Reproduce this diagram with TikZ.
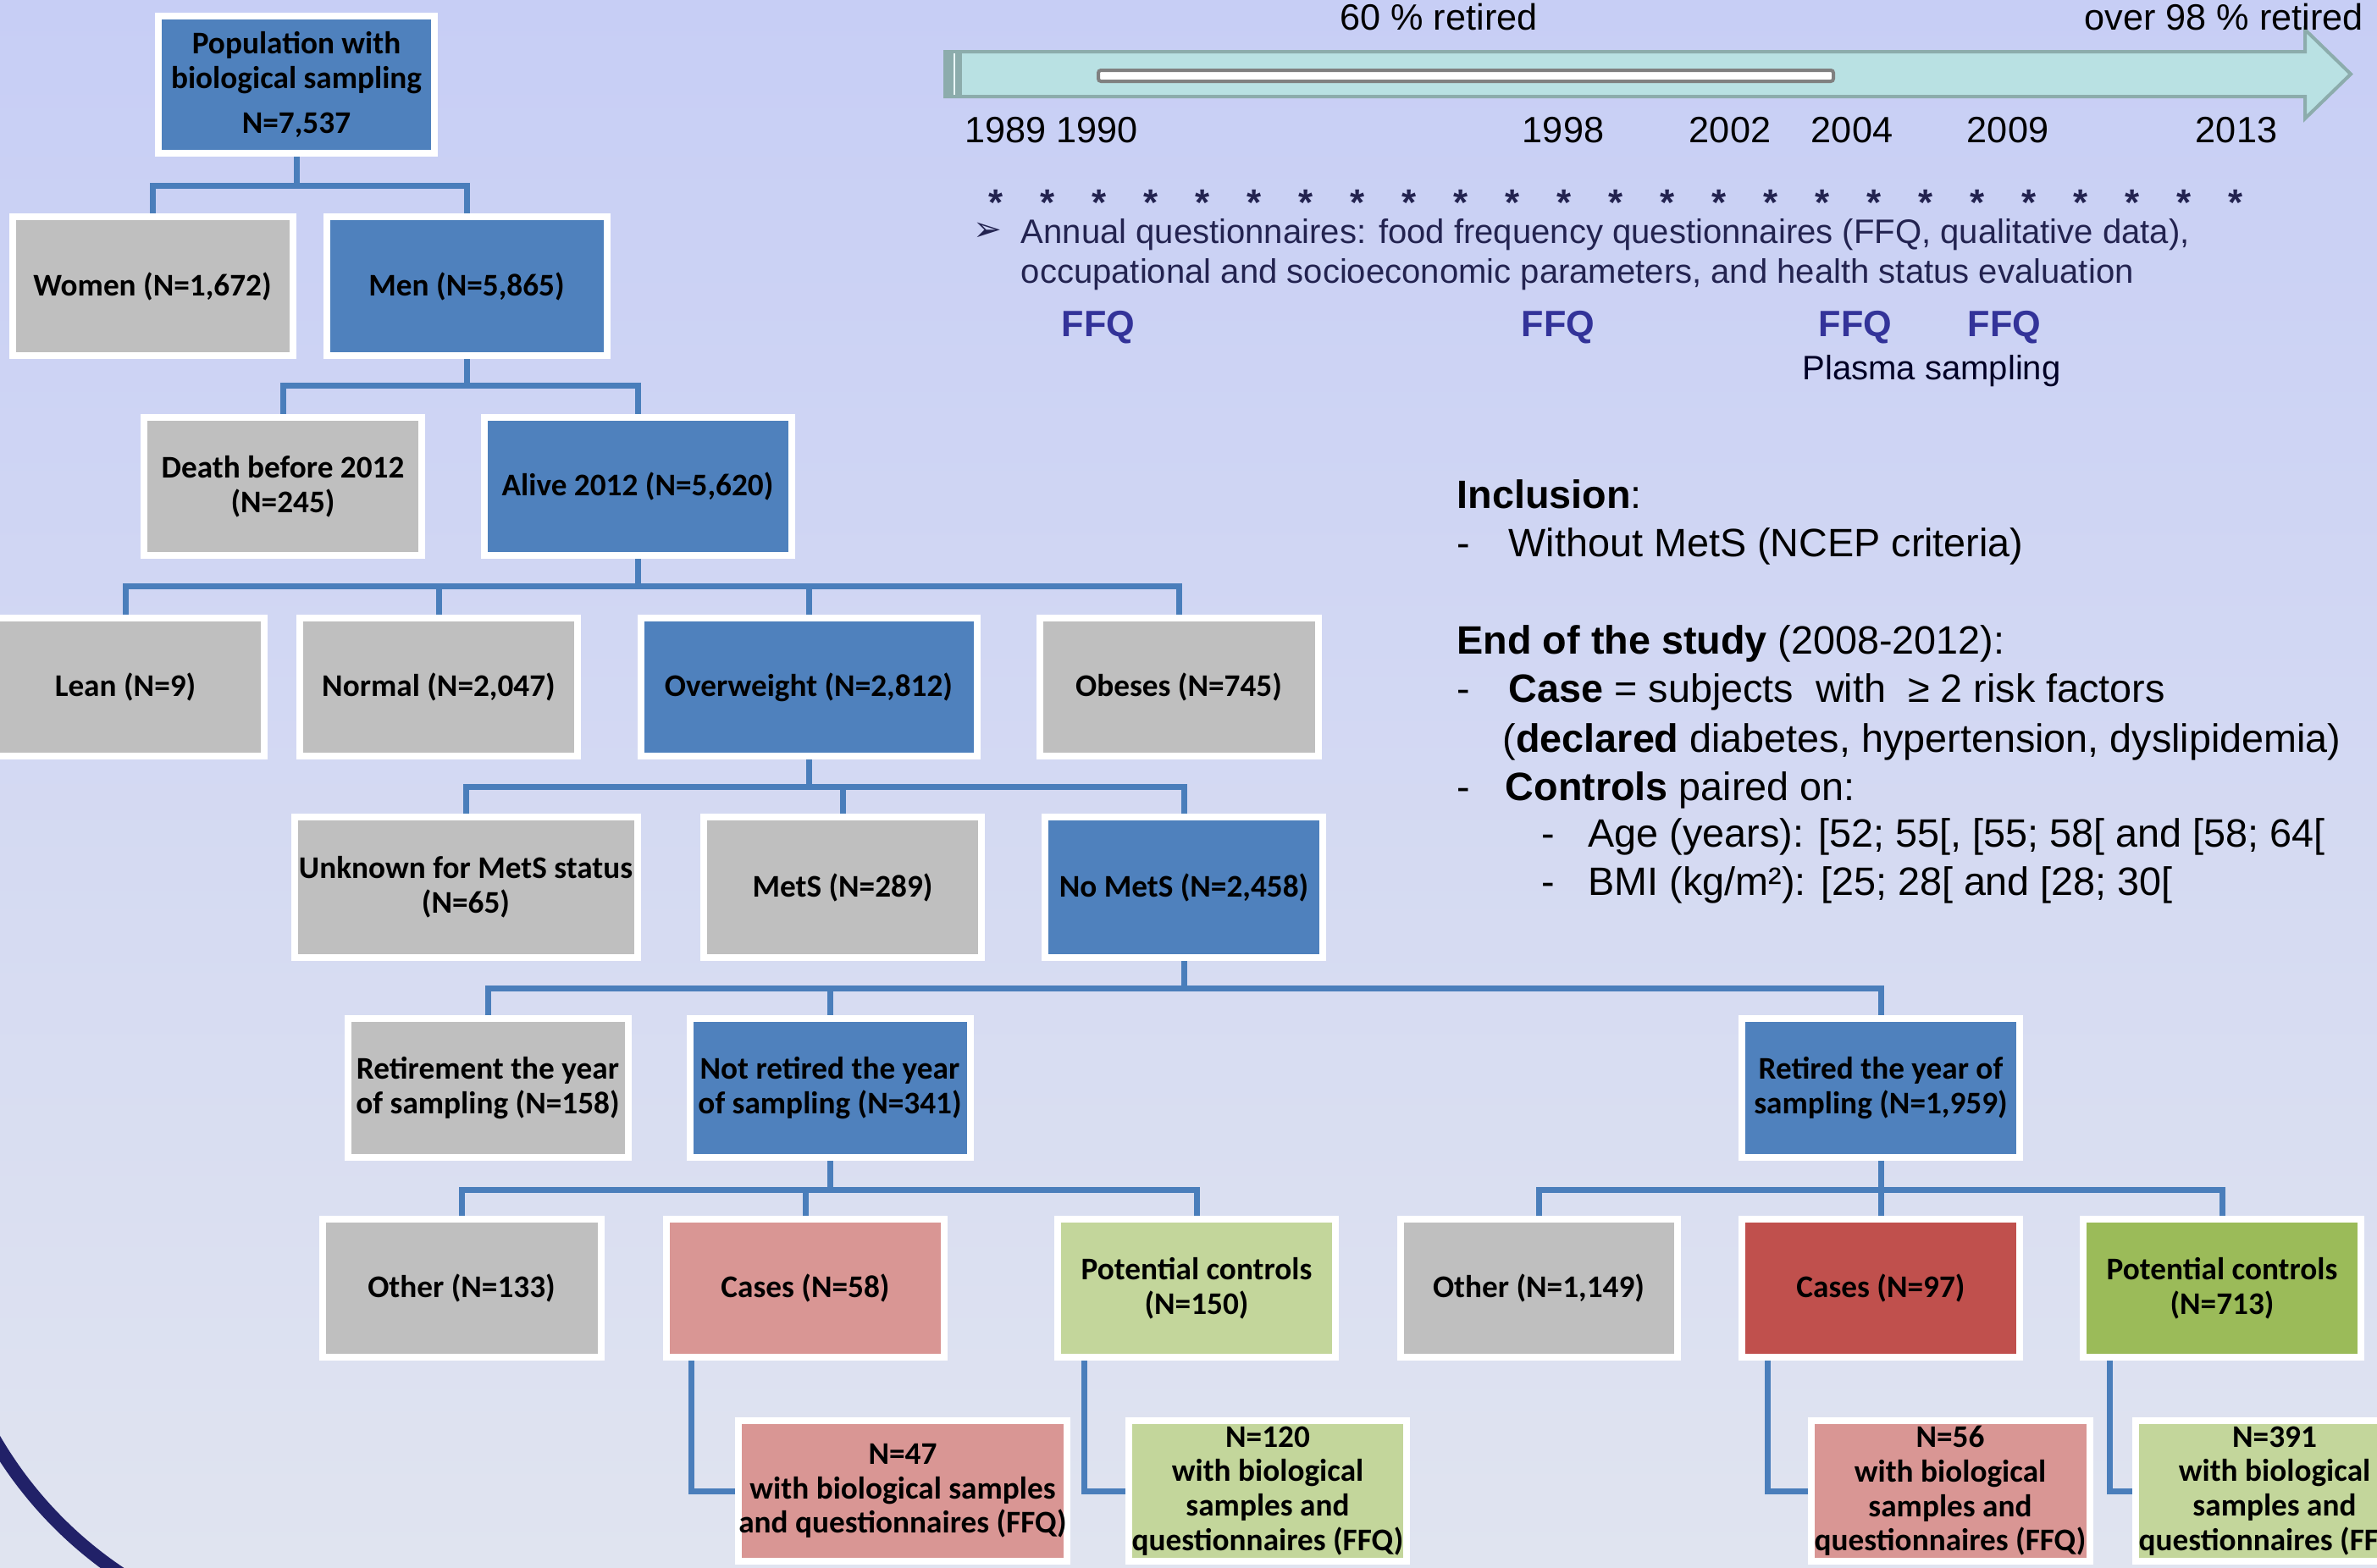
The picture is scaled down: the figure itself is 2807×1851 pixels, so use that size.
\documentclass[tikz,border=0pt]{standalone}
\usepackage{fontspec}
\setmainfont{Liberation Sans}
\newfontfamily\calib{Carlito}
\newfontfamily\dvs{DejaVu Sans}
\definecolor{bluebox}{RGB}{79,129,189}
\definecolor{greybox}{RGB}{191,191,191}
\definecolor{pinkbox}{RGB}{217,150,148}
\definecolor{redbox}{RGB}{192,80,77}
\definecolor{lgreenbox}{RGB}{195,214,155}
\definecolor{greenbox}{RGB}{155,187,89}
\definecolor{conncol}{RGB}{74,126,187}
\definecolor{navyarc}{RGB}{33,33,104}
\definecolor{ffqcol}{RGB}{51,51,153}
\definecolor{annualcol}{RGB}{35,35,80}
\definecolor{arrowfill}{RGB}{185,225,227}
\definecolor{arrowline}{RGB}{140,172,172}
\definecolor{bgtop}{RGB}{199,206,245}
\definecolor{bgmid}{RGB}{213,222,250}
\definecolor{bgbot}{RGB}{224,228,240}
\tikzset{
  boxbase/.style={draw=white, line width=0.8mm, inner sep=0pt, align=center, text=black,
    font=\calib\bfseries\fontsize{10.6}{11.6}\selectfont},
  bx/.style n args={3}{boxbase, fill=#1, minimum width={(#2-8)*0.1mm}, minimum height={(#3-8)*0.1mm}},
  cn/.style={draw=conncol, line width=0.7mm},
  rt/.style={inner sep=0pt, anchor=base west, font=\fontsize{13.3}{16}\selectfont, text=black},
  yr/.style={inner sep=0pt, anchor=base, font=\fontsize{12.3}{14}\selectfont, text=black},
  ann/.style={inner sep=0pt, anchor=base west, font=\fontsize{11.4}{13}\selectfont, text=annualcol},
  ffq/.style={inner sep=0pt, anchor=base, font=\bfseries\fontsize{12.3}{14}\selectfont, text=ffqcol},
  star/.style={inner sep=0pt, anchor=base, font=\bfseries\fontsize{12.5}{14}\selectfont, text=annualcol}
}
\begin{document}
\begin{tikzpicture}[x=0.1mm, y=-0.1mm]
\useasboundingbox (0,0) rectangle (2807,1851);
\clip (0,0) rectangle (2807,1851);
\shade[top color=bgtop, middle color=bgmid, bottom color=bgbot] (0,0) rectangle (2807,1851);

% decorative arc
\draw[navyarc, line width=1.6mm] plot[domain=110:160, samples=60] ({410+482*cos(\x)},{1458+482*sin(\x)});

% timeline arrow
\draw[fill=arrowfill, draw=arrowline, line width=0.4mm] (1116,61) -- (2722,61) -- (2722,35) -- (2776,87.5) -- (2722,140) -- (2722,114) -- (1116,114) -- cycle;
\fill[arrowline] (1116,61) rectangle (1136,114);
\draw[white!70!arrowfill, line width=0.2mm] (1127,63) -- (1127,112);
\draw[fill=white, draw=gray, line width=0.4mm, rounded corners=0.3mm] (1297,83) rectangle (2165,96);

\node[yr] (ret60) at (1699,35) {60 \% retired};
\node[inner sep=0pt, anchor=base west, font=\fontsize{12.3}{14}\selectfont] (ret98) at (2461,35) {over 98 \% retired};
\node[inner sep=0pt, anchor=base west, font=\fontsize{12.3}{14}\selectfont] (y89) at (1139,168) {1989 1990};
\node[yr] (y98) at (1846,168) {1998};
\node[yr] (y02) at (2043,168) {2002};
\node[yr] (y04) at (2187,168) {2004};
\node[yr] (y09) at (2371,168) {2009};
\node[yr] (y13) at (2641,168) {2013};

\foreach \k in {0,...,24}{\node[star] (st\k) at ({1176+61*\k},254) {*};}

\node[inner sep=0pt, anchor=base west, text=annualcol, font=\dvs\fontsize{11.5}{13}\selectfont] (bul) at (1149,284) {➢};
\node[ann] (ann1) at (1205,287) {Annual questionnaires: food frequency questionnaires (FFQ, qualitative data),};
\node[ann] (ann2) at (1205,334) {occupational and socioeconomic parameters, and health status evaluation};

\node[ffq] (f1) at (1297,397) {FFQ};
\node[ffq] (f2) at (1840,397) {FFQ};
\node[ffq] (f3) at (2191,397) {FFQ};
\node[ffq] (f4) at (2367,397) {FFQ};
\node[inner sep=0pt, anchor=base, font=\fontsize{11.4}{13}\selectfont, text=black!85!blue] (plasma) at (2281,448) {Plasma sampling};

% right text block
\node[rt] (inc) at (1720,600) {\textbf{Inclusion}:};
\node[rt] (d1) at (1720,657.5) {-};
\node[rt] (wo) at (1781,657.5) {Without MetS (NCEP criteria)};
\node[rt] (end) at (1720,772) {\textbf{End of the study} (2008-2012):};
\node[rt] (d2) at (1720,829) {-};
\node[rt] (case) at (1781,829) {\textbf{Case} = subjects\ \ with\ \ ≥ 2 risk factors};
\node[rt] (decl) at (1774,888) {(\textbf{declared} diabetes, hypertension, dyslipidemia)};
\node[rt] (d3) at (1720,945) {-};
\node[rt] (ctrl) at (1777,945) {\textbf{Controls} paired on:};
\node[rt] (d4) at (1820,1000) {-};
\node[rt] (age) at (1875,1000) {Age (years): [52; 55[, [55; 58[ and [58; 64[};
\node[rt] (d5) at (1820,1057) {-};
\node[rt] (bmi) at (1875,1057) {BMI (kg/m²): [25; 28[ and [28; 30[};

% boxes
\node[bx={bluebox}{334}{170}] (pop) at (350,100) {Population with\\biological sampling\\[3.7pt]N=7,537};
\node[bx={greybox}{339}{172}] (women) at (180,338) {Women (N=1,672)};
\node[bx={bluebox}{339}{172}] (men) at (551,338) {Men (N=5,865)};
\node[bx={greybox}{336}{171}] (death) at (334,574.5) {Death before 2012\\(N=245)};
\node[bx={bluebox}{371}{171}] (alive) at (753,574.5) {Alive 2012 (N=5,620)};
\node[bx={greybox}{336}{171}] (lean) at (148,811.5) {Lean (N=9)};
\node[bx={greybox}{336}{171}] (normal) at (518,811.5) {Normal (N=2,047)};
\node[bx={bluebox}{405}{171}] (over) at (955,811.5) {Overweight (N=2,812)};
\node[bx={greybox}{337}{171}] (obese) at (1392,811.5) {Obeses (N=745)};
\node[bx={greybox}{413}{174}] (unk) at (550,1048) {Unknown for MetS status\\(N=65)};
\node[bx={greybox}{336}{174}] (mets) at (995,1048) {MetS (N=289)};
\node[bx={bluebox}{336}{174}] (nomets) at (1398,1048) {No MetS (N=2,458)};
\node[bx={greybox}{339}{172}] (retire) at (576,1285) {Retirement the year\\of sampling (N=158)};
\node[bx={bluebox}{339}{172}] (notret) at (980,1285) {Not retired the year\\of sampling (N=341)};
\node[bx={bluebox}{336}{172}] (retired) at (2221,1285) {Retired the year of\\sampling (N=1,959)};
\node[bx={greybox}{337}{171}] (oth1) at (545,1521.5) {Other (N=133)};
\node[bx={pinkbox}{336}{171}] (cas1) at (951,1521.5) {Cases (N=58)};
\node[bx={lgreenbox}{336}{171}] (pot1) at (1413,1521.5) {Potential controls\\(N=150)};
\node[bx={greybox}{335}{171}] (oth2) at (1817,1521.5) {Other (N=1,149)};
\node[bx={redbox}{336}{171}] (cas2) at (2221,1521.5) {Cases (N=97)};
\node[bx={greenbox}{336}{171}] (pot2) at (2624,1521.5) {Potential controls\\(N=713)};
\node[bx={pinkbox}{396}{174}] (n47) at (1066,1761) {N=47\\with biological samples\\and questionnaires (FFQ)};
\node[bx={lgreenbox}{336}{174}] (n120) at (1497,1761) {N=120\\with biological\\samples and\\questionnaires (FFQ)};
\node[bx={pinkbox}{337}{174}] (n56) at (2303,1761) {N=56\\with biological\\samples and\\questionnaires (FFQ)};
\node[bx={lgreenbox}{336}{174}] (n391) at (2686,1761) {N=391\\with biological\\samples and\\questionnaires (FFQ)};

% connectors
\draw[cn] (pop.south) |- (women.north |- 0,219) -- (women.north);
\draw[cn] (pop.south) |- (men.north |- 0,219) -- (men.north);
\draw[cn] (men.south) |- (death.north |- 0,455) -- (death.north);
\draw[cn] (men.south) |- (alive.north |- 0,455) -- (alive.north);
\foreach \c in {lean,normal,over,obese}{\draw[cn] (alive.south) |- (\c.north |- 0,692) -- (\c.north);}
\foreach \c in {unk,mets,nomets}{\draw[cn] (over.south) |- (\c.north |- 0,929) -- (\c.north);}
\foreach \c in {retire,notret,retired}{\draw[cn] (nomets.south) |- (\c.north |- 0,1167) -- (\c.north);}
\foreach \c in {oth1,cas1,pot1}{\draw[cn] (notret.south) |- (\c.north |- 0,1405) -- (\c.north);}
\foreach \c in {oth2,cas2,pot2}{\draw[cn] (retired.south) |- (\c.north |- 0,1405) -- (\c.north);}
\draw[cn] (cas1.south -| 816,0) |- (n47.west);
\draw[cn] (pot1.south -| 1280,0) |- (n120.west);
\draw[cn] (cas2.south -| 2087,0) |- (n56.west);
\draw[cn] (pot2.south -| 2491,0) |- (n391.west);
\end{tikzpicture}
\end{document}
